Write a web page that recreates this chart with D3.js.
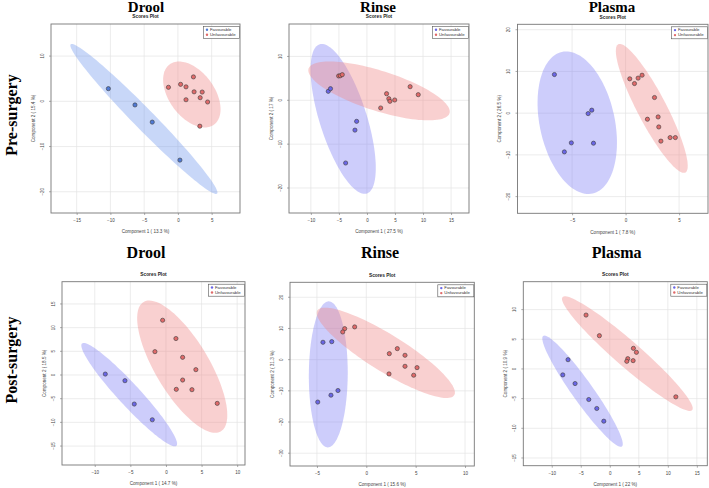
<!DOCTYPE html>
<html><head><meta charset="utf-8">
<script src="https://cdn.jsdelivr.net/npm/d3@7"></script>
<style>body{margin:0;background:#fff}svg{display:block}</style>
</head><body><svg id="c" width="709" height="488"></svg>
<script>
// ---------------- DATA ----------------
const groups = ["Favourable", "Unfavourable"];
const rowLabels = ["Pre-surgery", "Post-surgery"];
const sampleTypes = ["Drool", "Rinse", "Plasma"];
const plotTitle = "Scores Plot";
const xAxisLabels = ["Component 1 ( 13.3 %)", "Component 1 ( 27.5 %)", "Component 1 ( 7.8 %)",
                     "Component 1 ( 14.7 %)", "Component 1 ( 15.6 %)", "Component 1 ( 22 %)"];
const yAxisLabels = ["Component 2 ( 15.4 %)", "Component 2 ( 17 %)", "Component 2 ( 26.5 %)",
                     "Component 2 ( 18.5 %)", "Component 2 ( 31.3 %)", "Component 2 ( 10.9 %)"];

// scores [component1, component2]
const droolPreFav = [[-10.3, 2.8], [-6.36, -0.8], [-3.8, -4.6], [0.3, -13.0]];
const droolPreUnf = [[-1.4, 3.1], [0.4, 3.75], [1.2, 3.2], [2.3, 5.4], [2.4, 2.1], [3.6, 2.05],
                     [3.3, 0.8], [4.4, -0.15], [1.2, 0.35], [3.25, -5.5]];
const rinsePreFav = [[-6.9, 2.05], [-6.5, 2.65], [-1.84, -4.8], [-2.14, -6.8], [-3.8, -14.3]];
const rinsePreUnf = [[-5.05, 5.55], [-4.75, 5.6], [-4.4, 5.85], [2.45, -1.75], [3.5, 1.5],
                     [3.9, 0.37], [4.1, -0.23], [4.95, 0.07], [7.7, 3.1], [9.15, 1.28]];
const plasmaPreFav = [[-6.65, 9.26], [-3.5, -0.1], [-3.16, 0.72], [-5.07, -7.12], [-3.0, -7.2], [-5.72, -9.28]];
const plasmaPreUnf = [[0.39, 8.23], [0.83, 7.1], [1.17, 8.4], [1.54, 9.1], [2.7, 3.75], [2.04, -1.45],
                      [3.04, -0.9], [3.1, -3.3], [3.3, -6.7], [4.16, -5.85], [4.65, -5.85]];
const droolPostFav = [[-8.52, 0.2], [-5.76, -1.2], [-4.45, -6.13], [-1.92, -9.45]];
const droolPostUnf = [[-0.47, 11.56], [1.4, 7.7], [-1.55, 4.93], [2.34, 3.73], [4.2, 1.13],
                      [2.34, -1.06], [1.45, -3.03], [3.65, -3.1], [7.2, -5.99]];
const rinsePostFav = [[-4.39, 5.57], [-3.5, 5.77], [-2.87, -9.9], [-3.58, -11.4], [-4.92, -13.6]];
const rinsePostUnf = [[-2.19, 9.94], [-2.39, 8.88], [-1.18, 10.5], [2.33, 1.92], [3.14, 3.53],
                      [3.92, 1.4], [3.92, -2.13], [2.3, -4.58], [4.8, -5.0], [5.14, -2.56]];
const plasmaPostFav = [[-7.19, 1.56], [-8.1, -1.0], [-5.98, -2.46], [-3.62, -5.15], [-2.24, -6.66], [-1.03, -8.8]];
const plasmaPostUnf = [[-4.09, 9.08], [-1.79, 5.6], [4.07, 3.47], [4.59, 2.8], [3.1, 1.73],
                       [2.93, 1.29], [4.02, 1.4], [11.38, -4.7]];

const xTicks = [[-15, -10, -5, 0, 5], [-10, -5, 0, 5, 10, 15], [-5, 0, 5],
                [-10, -5, 0, 5, 10], [-5, 0, 5, 10], [-10, -5, 0, 5, 10, 15]];
const yTicks = [[-20, -10, 0, 10], [-20, -10, 0, 10], [-20, -10, 0, 10, 20],
                [-15, -10, -5, 0, 5, 10, 15], [-30, -20, -10, 0, 10, 20], [-15, -10, -5, 0, 5, 10]];

// ---------------- LAYOUT ----------------
const frames = [[51, 24, 240, 213], [289, 24, 469, 213], [517.5, 24.3, 708, 213.3],
                [62, 281.7, 245, 465], [290, 282.3, 474.3, 466], [523.3, 281.7, 707.3, 465.7]];
const xDomains = [[-18.8, 9.2], [-13.9, 18.2], [-10.1, 7.7], [-14.6, 11.1], [-7.73, 10.94], [-14.9, 16.8]];
const yDomains = [[-24.7, 17.1], [-25.7, 17.4], [-24, 21.3], [-19, 19.7], [-34.1, 24.8], [-16.3, 14.7]];
const titlePos = [[146, 11.8], [378, 11.8], [612, 11.8], [146, 257.7], [380, 257.7], [616.7, 257.7]];

const panelData = [
  [droolPreFav, droolPreUnf], [rinsePreFav, rinsePreUnf], [plasmaPreFav, plasmaPreUnf],
  [droolPostFav, droolPostUnf], [rinsePostFav, rinsePostUnf], [plasmaPostFav, plasmaPostUnf]
];

const favFill = ["#6f95ec", "#7b7bf4", "#7b7bf4", "#7b7bf4", "#7b7bf4", "#7b7bf4"];
const favPt = ["#4f7ad6", "#6a66e6", "#6a66e6", "#6a66e6", "#6a66e6", "#6a66e6"];
const unfFill = "#f08a8a";
const unfPt = "#e06a6a";

const svg = d3.select("#c");
const sans = "'Liberation Sans', Arial, sans-serif";
const serif = "'Liberation Serif', 'Times New Roman', serif";

function ellipsePoints(pts) {
  const n = pts.length;
  const mx = d3.mean(pts, d => d[0]), my = d3.mean(pts, d => d[1]);
  let a = 0, b = 0, d = 0;
  pts.forEach(p => { const dx = p[0] - mx, dy = p[1] - my; a += dx * dx; b += dx * dy; d += dy * dy; });
  a /= (n - 1); b /= (n - 1); d /= (n - 1);
  const tr = (a + d) / 2, det = Math.sqrt(((a - d) / 2) ** 2 + b * b);
  const l1 = tr + det, l2 = Math.max(tr - det, 0);
  const th = 0.5 * Math.atan2(2 * b, a - d);
  const k = Math.sqrt(5.991464547);
  const out = [];
  for (let i = 0; i <= 120; i++) {
    const t = i / 120 * 2 * Math.PI;
    const u = k * Math.sqrt(l1) * Math.cos(t), v = k * Math.sqrt(l2) * Math.sin(t);
    out.push([mx + u * Math.cos(th) - v * Math.sin(th), my + u * Math.sin(th) + v * Math.cos(th)]);
  }
  return out;
}

panelData.forEach((pd, i) => {
  const [x0, y0, x1, y1] = frames[i];
  const x = d3.scaleLinear().domain(xDomains[i]).range([x0, x1]);
  const y = d3.scaleLinear().domain(yDomains[i]).range([y1, y0]);
  const g = svg.append("g");
  const clipId = "clip" + i;
  svg.append("clipPath").attr("id", clipId).append("rect")
    .attr("x", x0).attr("y", y0).attr("width", x1 - x0).attr("height", y1 - y0);

  // grid
  g.selectAll(".gx").data(xTicks[i]).join("line")
    .attr("x1", d => x(d)).attr("x2", d => x(d)).attr("y1", y0).attr("y2", y1)
    .attr("stroke", "#e4e4e4").attr("stroke-width", 0.7);
  g.selectAll(".gy").data(yTicks[i]).join("line")
    .attr("y1", d => y(d)).attr("y2", d => y(d)).attr("x1", x0).attr("x2", x1)
    .attr("stroke", "#e4e4e4").attr("stroke-width", 0.7);

  // ellipses
  const line = d3.line().x(d => x(d[0])).y(d => y(d[1]));
  const eg = g.append("g").attr("clip-path", `url(#${clipId})`);
  eg.append("path").attr("d", line(ellipsePoints(pd[0]))).attr("fill", favFill[i]).attr("fill-opacity", 0.38);
  eg.append("path").attr("d", line(ellipsePoints(pd[1]))).attr("fill", unfFill).attr("fill-opacity", 0.4);

  // points
  [[pd[0], favPt[i]], [pd[1], unfPt]].forEach(([pts, col]) => {
    eg.selectAll(null).data(pts).join("circle")
      .attr("cx", d => x(d[0])).attr("cy", d => y(d[1])).attr("r", 2.1)
      .attr("fill", col).attr("stroke", "#3a3a3a").attr("stroke-width", 0.6);
  });

  // frame
  g.append("rect").attr("x", x0).attr("y", y0).attr("width", x1 - x0).attr("height", y1 - y0)
    .attr("fill", "none").attr("stroke", "#777").attr("stroke-width", 0.9);

  // axes
  const xa = g.append("g").attr("transform", `translate(0,${y1})`)
    .call(d3.axisBottom(x).tickValues(xTicks[i]).tickSize(2).tickPadding(3).tickSizeOuter(0));
  const ya = g.append("g").attr("transform", `translate(${x0},0)`)
    .call(d3.axisLeft(y).tickValues(yTicks[i]).tickSize(2).tickPadding(3).tickSizeOuter(0));
  [xa, ya].forEach(a => {
    a.select(".domain").remove();
    a.selectAll("line").attr("stroke", "#777").attr("stroke-width", 0.6);
    a.selectAll("text").attr("font-family", sans).attr("font-size", 4.5).attr("fill", "#444");
  });
  xa.selectAll("text").attr("dy", null).attr("y", 8).attr("dominant-baseline", "middle");
  ya.selectAll("text").attr("x", null).attr("dy", null)
    .attr("transform", d => `translate(${-8.5},${y(d)}) rotate(-90)`)
    .attr("text-anchor", "middle").attr("dominant-baseline", "middle");
  ya.selectAll(".tick").attr("transform", null);
  ya.selectAll(".tick line").attr("y1", d => y(d)).attr("y2", d => y(d));

  // axis labels
  g.append("text").attr("x", (x0 + x1) / 2).attr("y", y1 + 19)
    .attr("text-anchor", "middle").attr("dominant-baseline", "middle")
    .attr("font-family", sans).attr("font-size", 4.6).attr("fill", "#444").text(xAxisLabels[i]);
  g.append("text").attr("transform", `translate(${x0 - 17.5},${(y0 + y1) / 2}) rotate(-90)`)
    .attr("text-anchor", "middle").attr("dominant-baseline", "middle")
    .attr("font-family", sans).attr("font-size", 4.6).attr("fill", "#444").text(yAxisLabels[i]);

  // scores plot title
  g.append("text").attr("x", (x0 + x1) / 2).attr("y", y0 - 6.8)
    .attr("text-anchor", "middle").attr("dominant-baseline", "middle")
    .attr("font-family", sans).attr("font-weight", "bold").attr("font-size", 4.8).attr("fill", "#222").text(plotTitle);

  // legend
  const lw = 36, lh = 12;
  const lx = x1 - lw - 0.5, ly = y0 + 2.5;
  const lg = g.append("g");
  lg.append("rect").attr("x", lx).attr("y", ly).attr("width", lw).attr("height", lh)
    .attr("fill", "#fff").attr("stroke", "#555").attr("stroke-width", 0.6);
  groups.forEach((gname, j) => {
    const cy = ly + 3.3 + j * 5;
    lg.append("circle").attr("cx", lx + 3.5).attr("cy", cy).attr("r", 1.2)
      .attr("fill", j === 0 ? favPt[i] : unfPt);
    lg.append("text").attr("x", lx + 6.5).attr("y", cy).attr("dominant-baseline", "middle")
      .attr("font-family", sans).attr("font-size", 4.3).attr("fill", "#333").text(gname);
  });

  // big sample-type title
  svg.append("text").attr("x", titlePos[i][0]).attr("y", titlePos[i][1])
    .attr("text-anchor", "middle").attr("font-family", serif).attr("font-weight", "bold")
    .attr("font-size", i < 3 ? 15 : 16).attr("fill", "#000").text(sampleTypes[i % 3]);
});

// row labels
[[17, 115], [16.5, 360]].forEach((p, j) => {
  svg.append("text").attr("transform", `translate(${p[0]},${p[1]}) rotate(-90)`)
    .attr("text-anchor", "middle").attr("font-family", serif).attr("font-weight", "bold")
    .attr("font-size", 16).attr("fill", "#000").text(rowLabels[j]);
});
</script></body></html>
